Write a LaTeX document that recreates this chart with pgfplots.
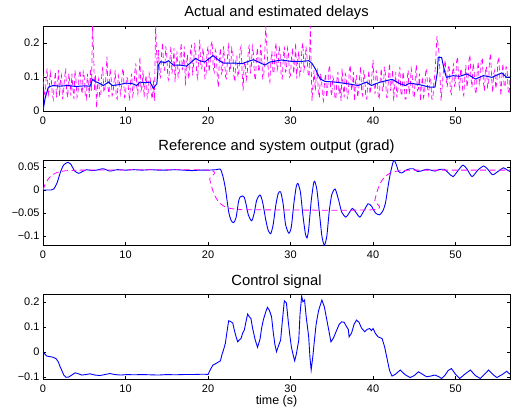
\documentclass[border=0pt]{standalone}
\usepackage{fontspec}
\setmainfont{Liberation Sans}
\usepackage{pgfplots}
\pgfplotsset{compat=1.18}
\definecolor{mblue}{rgb}{0,0,1}
\definecolor{mmag}{rgb}{1,0,1}

\pgfplotsset{
  panel/.style={
    scale only axis, width=467bp, anchor=south west,
    xmin=0, xmax=56.6,
    xtick={0,10,20,30,40,50},
    xticklabels={0,10,20,30,40,50},
    axis line style={line width=0.8pt},
    major tick style={line width=0.6pt, black},
    major tick length=3.5bp,
    tick label style={font=\fontsize{11}{13}\selectfont},
    xticklabel style={yshift=-2bp},
    every axis title/.style={at={(0.5,1)}, anchor=base, yshift=9bp,
      font=\fontsize{14.8}{17}\selectfont},
  },
  est/.style={color=mblue, line width=0.9pt},
  act/.style={color=mmag, line width=0.8pt, dash pattern=on 6bp off 3.5bp},
}

\begin{document}
\begin{tikzpicture}
\path[use as bounding box] (0,0) rectangle (513bp,412bp);

% delays
\begin{axis}[panel, at={(43bp,301bp)}, height=85bp,
    ymin=0, ymax=0.25, ytick={0,0.1,0.2}, yticklabels={0,0.1,0.2},
    title={Actual and estimated delays}]
\addplot[act, line width=0.7pt, dash pattern=on 5bp off 3bp] coordinates {
 (0.00,0.110) (0.125,0.060) (0.25,0.040) (0.375,0.095) (0.50,0.125) (0.625,0.045)
 (0.75,0.060) (0.875,0.115) (1.00,0.095) (1.125,0.050) (1.25,0.035) (1.375,0.085)
 (1.50,0.115) (1.625,0.040) (1.75,0.070) (1.875,0.120) (2.00,0.045) (2.125,0.090)
 (2.25,0.105) (2.375,0.035) (2.50,0.060) (2.625,0.100) (2.75,0.125) (2.875,0.055)
 (3.00,0.040) (3.125,0.110) (3.25,0.085) (3.375,0.045) (3.50,0.110) (3.625,0.065)
 (3.75,0.035) (3.875,0.120) (4.00,0.090) (4.125,0.040) (4.25,0.055) (4.375,0.105)
 (4.50,0.120) (4.625,0.070) (4.75,0.050) (4.875,0.115) (5.00,0.100) (5.125,0.045)
 (5.25,0.035) (5.375,0.110) (5.50,0.080) (5.625,0.040) (5.75,0.125) (5.875,0.060)
 (6.00,0.250) (6.125,0.180) (6.25,0.060) (6.375,0.105) (6.50,0.010) (6.625,0.080)
 (6.75,0.095) (6.875,0.040) (7.00,0.045) (7.125,0.110) (7.25,0.130) (7.375,0.055)
 (7.50,0.065) (7.625,0.100) (7.75,0.160) (7.875,0.070) (8.00,0.040) (8.125,0.125)
 (8.25,0.100) (8.375,0.045) (8.50,0.055) (8.625,0.090) (8.75,0.120) (8.875,0.040)
 (9.00,0.035) (9.125,0.105) (9.25,0.090) (9.375,0.050) (9.50,0.070) (9.625,0.125)
 (9.75,0.115) (9.875,0.040) (10.00,0.045) (10.125,0.100) (10.25,0.095) (10.375,0.060)
 (10.50,0.030) (10.625,0.090) (10.75,0.110) (10.875,0.045) (11.00,0.060) (11.125,0.115)
 (11.25,0.140) (11.375,0.070) (11.50,0.050) (11.625,0.095) (11.75,0.160) (11.875,0.060)
 (12.00,0.070) (12.125,0.120) (12.25,0.040) (12.375,0.085) (12.50,0.105) (12.625,0.040)
 (12.75,0.055) (12.875,0.110) (13.00,0.095) (13.125,0.050) (13.25,0.035) (13.375,0.090)
 (13.50,0.030) (13.65,0.250) (13.85,0.120)
 (14.00,0.180) (14.125,0.110) (14.25,0.100) (14.375,0.170) (14.50,0.200) (14.625,0.125)
 (14.75,0.120) (14.875,0.190) (15.00,0.165) (15.125,0.100) (15.25,0.090) (15.375,0.150)
 (15.50,0.190) (15.625,0.110) (15.75,0.130) (15.875,0.185) (16.00,0.085) (16.125,0.140)
 (16.25,0.175) (16.375,0.100) (16.50,0.115) (16.625,0.165) (16.75,0.200) (16.875,0.120)
 (17.00,0.140) (17.125,0.190) (17.25,0.075) (17.375,0.130) (17.50,0.165) (17.625,0.095)
 (17.75,0.110) (17.875,0.175) (18.00,0.195) (18.125,0.105) (18.25,0.135) (18.375,0.200)
 (18.50,0.180) (18.625,0.110) (18.75,0.095) (18.875,0.160) (19.00,0.210) (19.125,0.130)
 (19.25,0.125) (19.375,0.185) (19.50,0.160) (19.625,0.095) (19.75,0.100) (19.875,0.170)
 (20.00,0.190) (20.125,0.115) (20.25,0.140) (20.375,0.195) (20.50,0.205) (20.625,0.130)
 (20.75,0.115) (20.875,0.180) (21.00,0.170) (21.125,0.100) (21.25,0.070) (21.375,0.150)
 (21.50,0.185) (21.625,0.110) (21.75,0.120) (21.875,0.190) (22.00,0.155) (22.125,0.100)
 (22.25,0.095) (22.375,0.165) (22.50,0.200) (22.625,0.115) (22.75,0.130) (22.875,0.185)
 (23.00,0.175) (23.125,0.105) (23.25,0.085) (23.375,0.150) (23.50,0.160) (23.625,0.100)
 (23.75,0.115) (23.875,0.180) (24.00,0.190) (24.125,0.120) (24.25,0.060) (24.375,0.135)
 (24.50,0.145) (24.625,0.090) (24.75,0.105) (24.875,0.175) (25.00,0.195) (25.125,0.110)
 (25.25,0.130) (25.375,0.190) (25.50,0.170) (25.625,0.105) (25.75,0.090) (25.875,0.160)
 (26.00,0.185) (26.125,0.115) (26.25,0.125) (26.375,0.195) (26.50,0.160) (26.625,0.095)
 (26.75,0.100) (26.875,0.170) (27.00,0.250) (27.125,0.190) (27.25,0.140) (27.375,0.100)
 (27.50,0.085) (27.625,0.150) (27.75,0.175) (27.875,0.110) (28.00,0.115) (28.125,0.180)
 (28.25,0.200) (28.375,0.120) (28.50,0.135) (28.625,0.190) (28.75,0.165) (28.875,0.100)
 (29.00,0.095) (29.125,0.155) (29.25,0.190) (29.375,0.115) (29.50,0.120) (29.625,0.185)
 (29.75,0.170) (29.875,0.100) (30.00,0.105) (30.125,0.160) (30.25,0.185) (30.375,0.110)
 (30.50,0.140) (30.625,0.200) (30.75,0.095) (30.875,0.150) (31.00,0.175) (31.125,0.105)
 (31.25,0.120) (31.375,0.185) (31.50,0.200) (31.625,0.120) (31.75,0.135) (31.875,0.190)
 (32.00,0.160) (32.125,0.110) (32.25,0.100) (32.40,0.250) (32.60,0.030) (32.85,0.120)
 (33.00,0.060) (33.125,0.105) (33.25,0.120) (33.375,0.050) (33.50,0.040) (33.625,0.110)
 (33.75,0.095) (33.875,0.045) (34.00,0.030) (34.125,0.085) (34.25,0.110) (34.375,0.040)
 (34.50,0.065) (34.625,0.120) (34.75,0.135) (34.875,0.060) (35.00,0.045) (35.125,0.100)
 (35.25,0.090) (35.375,0.040) (35.50,0.035) (35.625,0.095) (35.75,0.115) (35.875,0.050)
 (36.00,0.070) (36.125,0.030) (36.25,0.125) (36.375,0.075) (36.50,0.040) (36.625,0.110)
 (36.75,0.100) (36.875,0.035) (37.00,0.055) (37.125,0.120) (37.25,0.135) (37.375,0.060)
 (37.50,0.075) (37.625,0.115) (37.75,0.030) (37.875,0.085) (38.00,0.105) (38.125,0.040)
 (38.25,0.060) (38.375,0.100) (38.50,0.130) (38.625,0.055) (38.75,0.045) (38.875,0.120)
 (39.00,0.095) (39.125,0.040) (39.25,0.035) (39.375,0.090) (39.50,0.120) (39.625,0.050)
 (39.75,0.070) (39.875,0.110) (40.00,0.150) (40.125,0.075) (40.25,0.050) (40.375,0.120)
 (40.50,0.100) (40.625,0.045) (40.75,0.035) (40.875,0.095) (41.00,0.125) (41.125,0.060)
 (41.25,0.065) (41.375,0.130) (41.50,0.110) (41.625,0.040) (41.75,0.040) (41.875,0.100)
 (42.00,0.140) (42.125,0.060) (42.25,0.080) (42.375,0.120) (42.50,0.030) (42.625,0.075)
 (42.75,0.115) (42.875,0.040) (43.00,0.060) (43.125,0.105) (43.25,0.130) (43.375,0.055)
 (43.50,0.045) (43.625,0.115) (43.75,0.095) (43.875,0.035) (44.00,0.035) (44.125,0.090)
 (44.25,0.120) (44.375,0.050) (44.50,0.070) (44.625,0.125) (44.75,0.105) (44.875,0.040)
 (45.00,0.040) (45.125,0.100) (45.25,0.135) (45.375,0.060) (45.50,0.065) (45.625,0.110)
 (45.75,0.030) (45.875,0.080) (46.00,0.100) (46.125,0.040) (46.25,0.055) (46.375,0.115)
 (46.50,0.125) (46.625,0.060) (46.75,0.045) (46.875,0.100) (47.00,0.090) (47.125,0.035)
 (47.25,0.035) (47.375,0.085) (47.50,0.110) (47.75,0.220) (48.00,0.170) (48.25,0.030)
 (48.50,0.110)
 (48.75,0.150) (48.875,0.090) (49.00,0.070) (49.125,0.135) (49.25,0.125) (49.375,0.060)
 (49.50,0.050) (49.625,0.110) (49.75,0.140) (49.875,0.075) (50.00,0.085) (50.125,0.145)
 (50.25,0.160) (50.375,0.090) (50.50,0.060) (50.625,0.125) (50.75,0.115) (50.875,0.055)
 (51.00,0.045) (51.125,0.100) (51.25,0.135) (51.375,0.070) (51.50,0.090) (51.625,0.150)
 (51.75,0.165) (51.875,0.095) (52.00,0.070) (52.125,0.140) (52.25,0.120) (52.375,0.060)
 (52.50,0.050) (52.625,0.115) (52.75,0.145) (52.875,0.080) (53.00,0.095) (53.125,0.155)
 (53.25,0.155) (53.375,0.085) (53.50,0.060) (53.625,0.120) (53.75,0.130) (53.875,0.070)
 (54.00,0.080) (54.125,0.150) (54.25,0.170) (54.375,0.095) (54.50,0.055) (54.625,0.110)
 (54.75,0.120) (54.875,0.065) (55.00,0.085) (55.125,0.145) (55.25,0.160) (55.375,0.090)
 (55.50,0.045) (55.625,0.105) (55.75,0.140) (55.875,0.075) (56.00,0.070) (56.125,0.130)
 (56.25,0.125) (56.375,0.060) (56.50,0.050) (56.60,0.100)
};
\addplot[est, line width=1pt] coordinates {
 (0,0) (0.24,0.036) (0.65,0.070) (1.2,0.075) (2.0,0.073) (3.0,0.075) (4.0,0.072)
 (5.0,0.074) (5.7,0.073) (6.0,0.093) (6.4,0.086) (6.8,0.082) (7.3,0.075) (7.95,0.085)
 (8.4,0.075) (9.1,0.077) (10.1,0.082) (10.9,0.080) (11.35,0.075) (11.75,0.085)
 (12.4,0.083) (12.97,0.085) (13.37,0.067) (13.8,0.080) (13.98,0.135) (14.26,0.145)
 (14.8,0.142) (15.2,0.148) (15.8,0.135) (16.6,0.135) (17.4,0.132) (18.0,0.144)
 (18.5,0.155) (18.95,0.148) (19.6,0.144) (20.6,0.163) (21.2,0.151) (21.85,0.141)
 (23.3,0.141) (24.1,0.139) (25.5,0.151) (26.9,0.135) (27.5,0.144) (28.9,0.150)
 (30.1,0.146) (31.4,0.146) (32.2,0.148) (32.6,0.140) (33.0,0.124) (33.3,0.109)
 (33.6,0.094) (34.2,0.087) (35.4,0.085) (36.4,0.082) (37.2,0.079) (38.2,0.075)
 (39.2,0.085) (39.8,0.075) (40.85,0.085) (42.3,0.093) (43.3,0.080) (43.9,0.075)
 (44.5,0.082) (45.7,0.077) (46.9,0.070) (47.5,0.070) (47.8,0.114) (47.9,0.158)
 (48.3,0.158) (48.7,0.114) (48.9,0.099) (49.7,0.104) (50.5,0.102) (51.4,0.109)
 (52.4,0.094) (53.4,0.104) (54.4,0.099) (55.6,0.112) (56.2,0.099) (56.6,0.100)
};
\end{axis}

% reference and output
\begin{axis}[panel, at={(43bp,166.3bp)}, height=85.7bp,
    ymin=-0.121, ymax=0.065, ytick={-0.1,-0.05,0,0.05},
    yticklabels={−0.1,−0.05,0,0.05},
    title={Reference and system output (grad)}]
\addplot[est, smooth, tension=0.4] coordinates {
 (0,0) (1.0,0.0) (1.3,0.002) (1.7,0.015) (2.1,0.038) (2.5,0.054) (3.0,0.060)
 (3.4,0.055) (3.8,0.042) (4.3,0.036) (4.8,0.040) (5.3,0.044) (5.9,0.042) (6.5,0.043)
 (7.3,0.046) (8.1,0.041) (9.0,0.044) (10.0,0.043) (11.0,0.044) (12.0,0.043)
 (13.0,0.044) (14.0,0.043) (15.0,0.043) (16.0,0.044) (17.0,0.043) (18.0,0.042)
 (19.0,0.043) (20.0,0.043) (21.0,0.044) (21.5,0.045) (21.8,0.030) (22.1,0.004)
 (22.5,-0.047) (22.8,-0.066) (23.1,-0.071) (23.4,-0.060) (23.7,-0.025) (23.9,-0.015)
 (24.2,-0.013) (24.4,-0.016) (24.6,-0.030) (24.9,-0.055) (25.3,-0.067) (25.6,-0.050)
 (25.9,-0.022) (26.3,-0.011) (26.6,-0.025) (27.0,-0.065) (27.3,-0.088) (27.6,-0.095)
 (27.9,-0.075) (28.2,-0.035) (28.5,-0.008) (28.8,-0.004) (29.1,-0.030) (29.4,-0.075)
 (29.8,-0.094) (30.1,-0.080) (30.4,-0.030) (30.7,0.008) (30.9,0.014) (31.2,-0.005)
 (31.5,-0.055) (31.8,-0.095) (32.0,-0.104) (32.2,-0.085) (32.5,-0.025) (32.8,0.015)
 (32.95,0.018) (33.2,0.000) (33.5,-0.050) (33.8,-0.100) (34.1,-0.120) (34.4,-0.100)
 (34.7,-0.045) (35.0,-0.010) (35.4,0.002) (35.8,-0.020) (36.2,-0.048) (36.7,-0.059)
 (37.1,-0.050) (37.5,-0.040) (37.9,-0.048) (38.4,-0.059) (38.9,-0.045) (39.4,-0.030)
 (39.8,-0.035) (40.3,-0.050) (40.8,-0.054) (41.2,-0.045) (41.5,-0.029) (41.8,0.005)
 (42.1,0.036) (42.5,0.064) (42.8,0.056) (43.1,0.040) (43.5,0.037) (44.0,0.043)
 (44.5,0.046) (44.9,0.046) (45.4,0.040) (46.0,0.042) (46.5,0.045) (47.0,0.043)
 (47.5,0.041) (48.0,0.044) (48.6,0.045) (49.2,0.036) (49.7,0.029) (50.3,0.042)
 (50.9,0.054) (51.4,0.045) (52.0,0.029) (52.7,0.043) (53.4,0.052) (53.9,0.045)
 (54.5,0.033) (55.2,0.041) (55.8,0.048) (56.2,0.044) (56.6,0.040)
};
\addplot[act, smooth, tension=0.4] coordinates {
 (0,0) (0.2,0.0095) (0.4,0.0169) (0.6,0.0227) (0.8,0.0272) (1.0,0.0307) (1.2,0.0334)
 (1.5,0.0364) (2.0,0.0395) (2.5,0.0411) (3.0,0.0420) (4.0,0.0427) (5.0,0.043)
 (20.0,0.043) (20.2,0.024) (20.4,0.0092) (20.6,-0.0024) (20.8,-0.0114) (21.0,-0.0183)
 (21.2,-0.0238) (21.5,-0.0298) (22.0,-0.0359) (22.5,-0.0392) (23.0,-0.041) (24.0,-0.0424)
 (25.0,-0.043) (40.0,-0.043) (40.2,-0.024) (40.4,-0.0092) (40.6,0.0024) (40.8,0.0114)
 (41.0,0.0183) (41.2,0.0238) (41.5,0.0298) (42.0,0.0359) (42.5,0.0392) (43.0,0.041)
 (44.0,0.0424) (45.0,0.043) (56.6,0.043)
};
\end{axis}

% control signal
\begin{axis}[panel, at={(43bp,32.7bp)}, height=85bp,
    ymin=-0.11, ymax=0.23, ytick={-0.1,0,0.1,0.2},
    yticklabels={−0.1,0,0.1,0.2},
    title={Control signal},
    xlabel={time (s)},
    every axis x label/.style={at={(0.5,0)}, anchor=base, yshift=-25.7bp,
      font=\fontsize{12.5}{15}\selectfont}]
\addplot[est] coordinates {
 (0,0) (0.2,-0.008) (0.45,-0.017) (0.8,-0.019) (1.25,-0.022) (1.6,-0.028) (1.85,-0.040)
 (2.05,-0.058) (2.26,-0.073) (2.5,-0.092) (2.8,-0.102) (3.1,-0.101) (3.4,-0.095)
 (3.9,-0.084) (4.3,-0.088) (4.7,-0.093) (5.2,-0.091) (5.7,-0.088) (6.3,-0.093)
 (6.9,-0.095) (7.5,-0.091) (8.1,-0.087) (8.7,-0.091) (9.4,-0.093) (10.2,-0.091)
 (11.0,-0.092) (12.0,-0.091) (13.0,-0.092) (14.0,-0.093) (15.0,-0.091) (16.0,-0.092)
 (17.0,-0.091) (18.0,-0.091) (19.0,-0.090) (19.7,-0.090) (20.0,-0.091) (20.3,-0.070)
 (20.6,-0.053) (20.9,-0.048) (21.2,-0.042) (21.5,-0.036) (21.7,-0.010) (21.9,0.010)
 (22.1,0.034) (22.3,0.080) (22.5,0.124) (22.75,0.121) (23.0,0.115) (23.2,0.085)
 (23.4,0.060) (23.6,0.040) (23.8,0.048) (24.0,0.053) (24.2,0.075) (24.4,0.087)
 (24.6,0.120) (24.8,0.151) (25.0,0.140) (25.2,0.133) (25.4,0.095) (25.7,0.050)
 (26.0,0.018) (26.3,0.050) (26.5,0.095) (26.7,0.127) (27.0,0.160) (27.2,0.178)
 (27.45,0.165) (27.7,0.140) (27.9,0.080) (28.1,0.030) (28.3,0.000) (28.5,0.020)
 (28.8,0.047) (29.0,0.120) (29.25,0.204) (29.5,0.196) (29.7,0.130) (29.9,0.070)
 (30.1,0.020) (30.3,-0.010) (30.5,-0.036) (30.7,-0.010) (31.0,0.047) (31.15,0.150)
 (31.35,0.223) (31.5,0.200) (31.7,0.207) (31.9,0.140) (32.2,0.060) (32.35,-0.020)
 (32.5,-0.073) (32.7,-0.020) (32.9,0.047) (33.1,0.110) (33.4,0.165) (33.8,0.207)
 (34.1,0.180) (34.4,0.127) (34.7,0.075) (34.9,0.040) (35.2,0.055) (35.6,0.087)
 (35.9,0.110) (36.2,0.120) (36.5,0.118) (36.8,0.100) (37.0,0.090) (37.1,0.060)
 (37.4,0.075) (37.7,0.110) (38.0,0.127) (38.3,0.118) (38.6,0.095) (39.0,0.080)
 (39.3,0.090) (39.6,0.093) (39.8,0.085) (40.0,0.093) (40.3,0.073) (40.6,0.060)
 (41.1,0.053) (41.4,0.020) (41.7,-0.027) (42.0,-0.075) (42.3,-0.097) (42.7,-0.090)
 (43.3,-0.073) (43.9,-0.092) (44.5,-0.103) (45.0,-0.095) (45.5,-0.080) (46.0,-0.090)
 (46.5,-0.100) (47.0,-0.097) (47.5,-0.093) (48.0,-0.100) (48.3,-0.107) (48.7,-0.095)
 (49.1,-0.075) (49.5,-0.067) (50.0,-0.090) (50.5,-0.107) (51.1,-0.090) (51.8,-0.073)
 (52.4,-0.095) (53.0,-0.107) (53.5,-0.090) (54.0,-0.073) (54.5,-0.090) (55.0,-0.103)
 (55.7,-0.090) (56.2,-0.078) (56.6,-0.090)
};
\end{axis}
\end{tikzpicture}
\end{document}
